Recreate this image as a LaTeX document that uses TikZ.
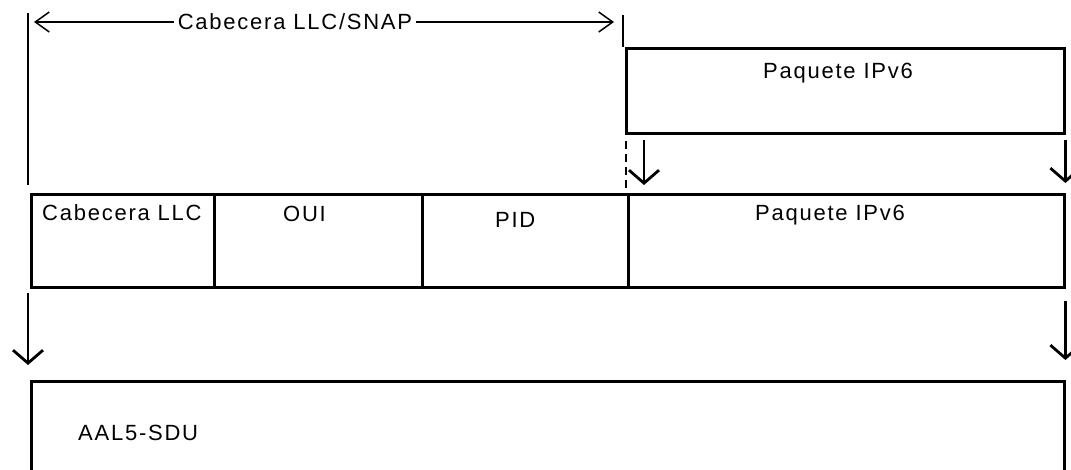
\documentclass[tikz,border=0pt]{standalone}
\usepackage{fontspec}
\newfontfamily\diafont[LetterSpace=8]{Liberation Sans}
\usetikzlibrary{arrows.meta}

\begin{document}
\begin{tikzpicture}[x=1pt,y=-1pt,font=\diafont\fontsize{22}{26}\selectfont,
  pkt/.style={draw,line width=3.4pt,anchor=north west,inner sep=0pt,minimum height=93pt},
  lab/.style={anchor=base west,inner sep=0pt},
  down/.style={line width=2.8pt,-{Straight Barb[length=13pt,width=30pt,line width=2.8pt]}},
  dim/.style={line width=1.5pt,{Straight Barb[length=14pt,width=20pt]}-{Straight Barb[length=14pt,width=20pt]}}]
  \clip (0,0) rectangle (1071,470);

  \node[pkt,minimum width=438pt,minimum height=85pt] (ipv6top) at (625,47) {};
  \node[lab] (ipv6toplab) at (763,79) {Paquete IPv6};

  \foreach \nm/\x/\w in {llc/30/183,oui/213/208,pid/421/206,ipv6/627/436}
    \node[pkt,minimum width=\w pt] (\nm) at (\x,193) {};
  \node[lab] (llclab) at (42,221) {Cabecera LLC};
  \node[lab] (ouilab) at (283,222) {OUI};
  \node[lab] (pidlab) at (495,228) {PID};
  \node[lab] (ipv6lab) at (755,221) {Paquete IPv6};

  \node[pkt,minimum width=1033pt,minimum height=120pt] (sdu) at (30,380) {};
  \node[lab] (sdulab) at (78,440) {AAL5-SDU};

  \coordinate (ltop) at (28,13);
  \coordinate (rtop) at (623,15);
  \coordinate (dimL) at (34,22);
  \coordinate (dimR) at (614,22);
  \draw[line width=1.5pt,shorten >=8pt] (ltop) -- ([xshift=-2pt]llc.north west);
  \draw[line width=1.5pt] (rtop) -- ([xshift=-2pt]ipv6top.north west);
  \draw[dim] (dimL) -- node[pos=.45,fill=white,inner xsep=4pt,inner ysep=0pt] (snaplab) {Cabecera LLC/SNAP} (dimR);

  \draw[line width=1.5pt,dash pattern=on 8pt off 5pt,shorten <=6pt,shorten >=5pt] ([xshift=1pt]ipv6top.south west) -- ([xshift=-1pt]ipv6.north west);
  \draw[down,shorten <=5pt,shorten >=8pt] ([xshift=19pt]ipv6top.south west) -- ([xshift=17pt]ipv6.north west);
  \draw[down,shorten <=5pt,shorten >=10pt] ([xshift=-1pt]ipv6top.south east) -- ([xshift=-1pt]ipv6.north east);
  \draw[down,shorten <=4pt,shorten >=15pt] ([xshift=-2pt]llc.south west) -- ([xshift=-2pt]sdu.north west);
  \draw[down,shorten <=12pt,shorten >=20pt] ([xshift=-1pt]ipv6.south east) -- ([xshift=-1pt]sdu.north east);
\end{tikzpicture}
\end{document}
